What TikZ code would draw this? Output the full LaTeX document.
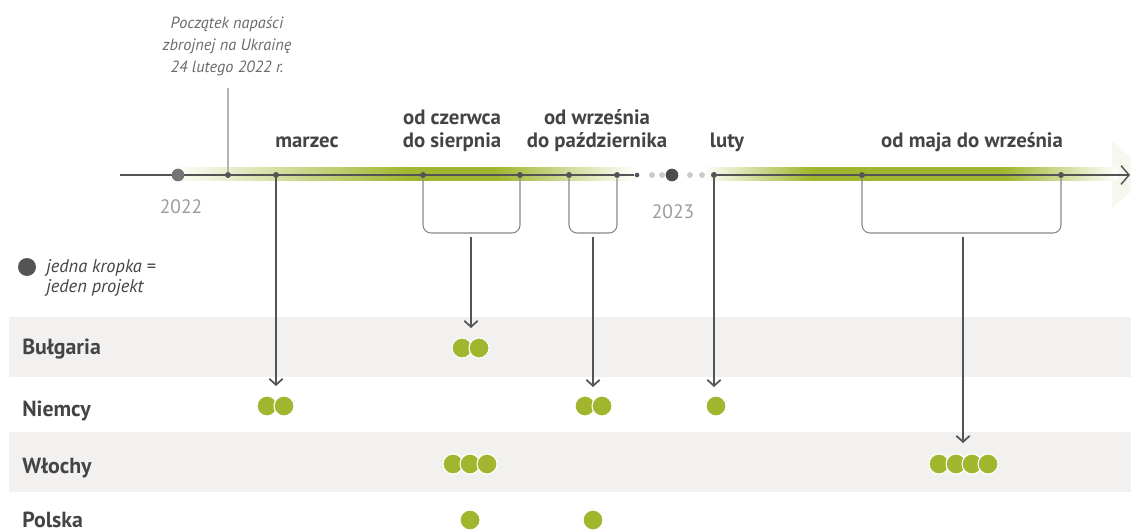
\documentclass[tikz,border=0pt]{standalone}
\usepackage{fontspec}
\setmainfont{PT Sans}
\usetikzlibrary{arrows.meta}
\usetikzlibrary{positioning}

\definecolor{ink}{HTML}{444446}
\definecolor{axisgray}{HTML}{545456}
\definecolor{leaf}{HTML}{A1B62E}
\definecolor{rowband}{HTML}{F2F1EF}
\definecolor{yeargray}{HTML}{9C9C9C}
\definecolor{notegray}{HTML}{6A6A6C}
\definecolor{rulegray}{HTML}{B4B4B4}
\definecolor{palegreen}{HTML}{F6F8EE}

\pgfdeclarehorizontalshading{glow}{100bp}{color(0bp)=(white); color(25bp)=(white);
  color(37.7bp)=(leaf); color(42.2bp)=(leaf); color(49.6bp)=(white); color(53.1bp)=(white);
  color(58.8bp)=(leaf); color(69bp)=(leaf); color(75bp)=(white); color(100bp)=(white)}

\tikzset{
  tick/.style={circle,fill=axisgray,minimum size=4.5pt},
  gapdot/.style={circle,fill=rulegray!70,minimum size=4.5pt},
  proj/.style={circle,fill=leaf,draw=white,line width=0.8pt,minimum size=15pt},
  period/.style={font=\fontsize{15.6}{17.25}\selectfont\bfseries,text=ink,align=center},
  country/.style={font=\fontsize{16.4}{18}\selectfont\bfseries,text=ink},
  yearlab/.style={font=\fontsize{14.6}{17}\selectfont,text=yeargray},
  note/.style={font=\fontsize{12.2}{16.5}\selectfont\itshape,text=notegray,align=center},
  keytext/.style={font=\fontsize{13.8}{15}\selectfont\itshape,text=ink,align=left},
  axisline/.style={draw=axisgray,line width=1.1pt},
  bracket/.style={draw=axisgray!70,line width=0.8pt,rounded corners=6pt},
  down/.style={draw=axisgray,line width=1.3pt,-{Straight Barb[length=4.5pt,width=10pt,line width=1.3pt]}}
}

\begin{document}
\begin{tikzpicture}[x=0.75pt,y=-0.75pt]
\tikzstyle{every node}+=[inner sep=0pt]
\useasboundingbox (0,0) rectangle (1131,531);

% rows
\fill[rowband] (9,317) rectangle (1131,377);
\fill[rowband] (9,432) rectangle (1131,492);

% green glow along the axis
\fill[palegreen] (1112,141) -- (1150,175) -- (1112,208) -- cycle;
\shade[shading=glow] (170,168) rectangle (1118,181);

% axis
\coordinate (axL) at (120,175);
\coordinate (axR) at (1130,175);
\node[tick] (tInv) at (228,175) {};
\node[tick] (tMar) at (276,175) {};
\node[tick] (tJun) at (423,175) {};
\node[tick] (tAug) at (520,175) {};
\node[tick] (tSep) at (569,175) {};
\node[tick] (tOct) at (617,175) {};
\node[tick,minimum size=3.5pt] (tEnd) at (637,175) {};
\node[tick] (tFeb) at (714,175) {};
\node[tick] (tMay) at (862,175) {};
\node[tick] (tSepB) at (1061,175) {};
\draw[axisline] (axL) -- (tEnd);
\draw[axisline,-{Straight Barb[length=6pt,width=14pt,line width=1.1pt]}] (tFeb) -- (axR);
\foreach \x [count=\i] in {652,662,690,702}
  \node[gapdot] (g\i) at (\x,175) {};
\node[circle,fill=yeargray!75!black,minimum size=9.5pt] (y22) at (178,175) {};
\node[circle,fill=axisgray!90!black,minimum size=9.5pt] (y23) at (672,175) {};
\node[yearlab,anchor=base] (lab22) at (181,214) {2022};
\node[yearlab,anchor=base] (lab23) at (673,218) {2023};

% start of the invasion
\node[note,anchor=south] (nInv) at (227,76) {Początek napaści\\zbrojnej na Ukrainę\\24 lutego 2022 r.};
\draw[rulegray,line width=0.8pt] (tInv |- 0,88) -- (tInv);

% periods
\node[period,anchor=base] (pMar) at (307,148) {marzec};
\node[period,anchor=base] (pJun) at (452,148) {od czerwca\\do sierpnia};
\node[period,anchor=base] (pSep) at (597,148) {od września\\do października};
\node[period,anchor=base] (pFeb) at (727,148) {luty};
\node[period,anchor=base] (pMay) at (972,148) {od maja do września};

% brackets
\draw[bracket] (tJun) -- ++(0,58) -| (tAug);
\draw[bracket] (tSep) -- ++(0,58) -| (tOct);
\draw[bracket] (tMay) -- ++(0,58) -| (tSepB);

% arrows down to the countries
\coordinate (bJun) at (471,237);
\coordinate (bSep) at (593,237);
\coordinate (bMay) at (963,237);
\coordinate (aMar) at (276,386);
\coordinate (aJun) at (471,328);
\coordinate (aSep) at (593,387);
\coordinate (aFeb) at (714,387);
\coordinate (aMay) at (963,443);
\draw[down] (tMar) -- (aMar);
\draw[down] (bJun) -- (aJun);
\draw[down] (bSep) -- (aSep);
\draw[down] (tFeb) -- (aFeb);
\draw[down] (bMay) -- (aMay);

% legend
\node[circle,fill=axisgray,minimum size=13.5pt] (key) at (27,267) {};
\node[keytext,anchor=north west] (keyTxt) at (46,259) {jedna kropka =\\jeden projekt};

% countries
\node[country,anchor=base west] (cBg) at (22,354) {Bułgaria};
\node[country,anchor=base west] (cDe) at (22,416) {Niemcy};
\node[country,anchor=base west] (cIt) at (22,473) {Włochy};
\node[country,anchor=base west] (cPl) at (22,527) {Polska};

% projects
\foreach \x [count=\i] in {462,479}
  \node[proj] (bg\i) at (\x,348) {};
\foreach \x [count=\i] in {267,284,585,602,716}
  \node[proj] (de\i) at (\x,406) {};
\foreach \x [count=\i] in {453,470,487,939,956,972,988}
  \node[proj] (it\i) at (\x,464) {};
\foreach \x [count=\i] in {470,593}
  \node[proj] (pl\i) at (\x,520) {};
\end{tikzpicture}
\end{document}
